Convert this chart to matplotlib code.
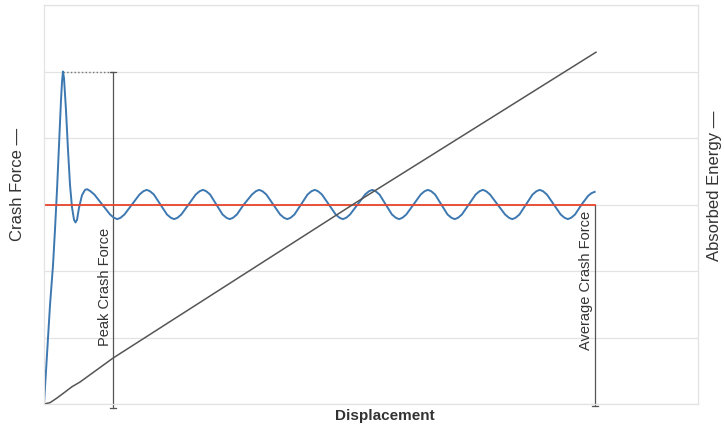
import matplotlib.pyplot as plt

plt.rcParams['font.family'] = ['Liberation Sans', 'DejaVu Sans']

# crash force curve (displacement in mm, force in kN)
disp = [0, 0.46, 0.92, 1.38, 1.68, 1.99, 2.29, 2.6, 2.75, 2.9,
        3.06, 3.36, 3.67, 3.98, 4.28, 4.59, 4.82, 5.05, 5.35, 5.81, 6.27, 6.6,
        7.1, 7.7, 8.9, 10.1, 10.7, 11.2,
        11.7, 12.3, 13.45, 14.6, 15.2, 15.7,
        16.2, 16.8, 17.8, 18.8, 19.4, 19.9,
        20.4, 21.0, 22.1, 23.2, 23.8, 24.3,
        24.8, 25.4, 26.35, 27.3, 27.9, 28.4,
        28.9, 29.5, 30.55, 31.8, 32.4, 32.9,
        33.4, 34.0, 35.05, 36.1, 36.7, 37.2,
        37.7, 38.3, 39.3, 40.3, 40.9, 41.4,
        41.9, 42.5, 43.55, 44.6, 45.2, 45.7,
        46.2, 46.8, 47.95, 49.1, 49.7, 50.2,
        50.7, 51.3, 52.25, 53.2, 53.8, 54.3,
        54.8, 55.4, 56.5, 57.6, 58.2, 58.7,
        59.2, 59.8, 60.75, 61.7, 62.3, 62.8,
        63.3, 63.9, 64.95, 66.0, 66.6, 67.1,
        67.6, 68.2, 69.35, 70.5, 71.1, 71.6,
        72.1, 72.7, 73.7, 74.7, 75.3, 75.8,
        76.3, 76.9, 77.95, 79.0, 79.6, 80.1,
        80.6, 81.2, 82.2, 83.2, 83.7, 84.2]
force = [0, 0.74, 1.49, 2.09, 2.62, 3.22, 3.89, 4.57, 4.84, 5.0,
         4.9, 4.42, 3.82, 3.29, 2.96, 2.77, 2.73, 2.77, 2.95, 3.14, 3.22, 3.23,
         3.2, 3.15, 3.0, 2.85, 2.8, 2.78,
         2.8, 2.85, 3.0, 3.15, 3.2, 3.22,
         3.2, 3.15, 3.0, 2.85, 2.8, 2.78,
         2.8, 2.85, 3.0, 3.15, 3.2, 3.22,
         3.2, 3.15, 3.0, 2.85, 2.8, 2.78,
         2.8, 2.85, 3.0, 3.15, 3.2, 3.22,
         3.2, 3.15, 3.0, 2.85, 2.8, 2.78,
         2.8, 2.85, 3.0, 3.15, 3.2, 3.22,
         3.2, 3.15, 3.0, 2.85, 2.8, 2.78,
         2.8, 2.85, 3.0, 3.15, 3.2, 3.22,
         3.2, 3.15, 3.0, 2.85, 2.8, 2.78,
         2.8, 2.85, 3.0, 3.15, 3.2, 3.22,
         3.2, 3.15, 3.0, 2.85, 2.8, 2.78,
         2.8, 2.85, 3.0, 3.15, 3.2, 3.22,
         3.2, 3.15, 3.0, 2.85, 2.8, 2.78,
         2.8, 2.85, 3.0, 3.15, 3.2, 3.22,
         3.2, 3.15, 3.0, 2.85, 2.8, 2.78,
         2.8, 2.85, 3.0, 3.13, 3.17, 3.19]

# absorbed energy
e_disp = [0, 0.92, 1.99, 3.21, 4.28, 5.5, 10.55, 47.55, 84.4]
energy = [0, 0.02, 0.09, 0.18, 0.26, 0.33, 0.69, 3.02, 5.29]

peak_force = 5.0
peak_disp = 2.9
avg_force = 3.0
end_disp = 84.2
peak_marker_disp = 10.55

fig = plt.figure(figsize=(7.24, 4.25), dpi=100)
ax = fig.add_axes([44 / 724, 21 / 425, 654 / 724, 399 / 425])
ax2 = ax.twinx()

ax.set_xlim(0, 100)
ax.set_ylim(0, 6)
ax2.set_ylim(0, 6)
ax.set_yticks(range(0, 7))
ax.grid(axis='y', color='#e3e3e3', linewidth=0.9)
ax.set_axisbelow(True)
for a in (ax, ax2):
    a.tick_params(left=False, right=False, bottom=False, labelleft=False,
                  labelright=False, labelbottom=False)
    for s in a.spines.values():
        s.set_color('#e3e3e3')

ax.plot(disp, force, color='#3d78b0', linewidth=1.4, zorder=3)
ax.plot([0, end_disp], [avg_force, avg_force], color='#e8452c', linewidth=1.3, zorder=4)
ax2.plot(e_disp, energy, color='#555555', linewidth=1.1)

# peak crash force marker
ax.plot([peak_disp, peak_marker_disp], [peak_force, peak_force], color='#777777',
        linestyle=':', linewidth=1)
ax.plot([peak_marker_disp, peak_marker_disp], [-0.06, peak_force], color='#555555',
        linewidth=0.9, clip_on=False)
for yy in (-0.06, peak_force):
    ax.plot([peak_marker_disp - 0.45, peak_marker_disp + 0.45], [yy, yy],
            color='#555555', linewidth=0.9, clip_on=False)
ax.text(peak_marker_disp - 0.2, 1.76, 'Peak Crash Force', rotation=90, ha='right',
        va='center', fontsize=10.5, color='#333333')

# average crash force marker
ax.plot([end_disp, end_disp], [-0.03, avg_force], color='#555555', linewidth=0.9,
        clip_on=False)
ax.plot([end_disp - 0.45, end_disp + 0.45], [-0.03, -0.03], color='#555555',
        linewidth=0.9, clip_on=False)
ax.text(end_disp - 0.2, 1.86, 'Average Crash Force', rotation=90, ha='right',
        va='center', fontsize=10.5, color='#333333')

fig.text(18 / 724, 1 - 184 / 425, 'Crash Force —', rotation=90, ha='center',
         va='center', fontsize=12, color='#333333')
fig.text(714 / 724, 1 - 186 / 425, 'Absorbed Energy —', rotation=90, ha='center',
         va='center', fontsize=12, color='#333333')
fig.text(385 / 724, 1 - 416 / 425, 'Displacement', ha='center', va='center',
         fontsize=11, fontweight='bold', color='#333333')

fig.savefig('out.png', dpi=100)
